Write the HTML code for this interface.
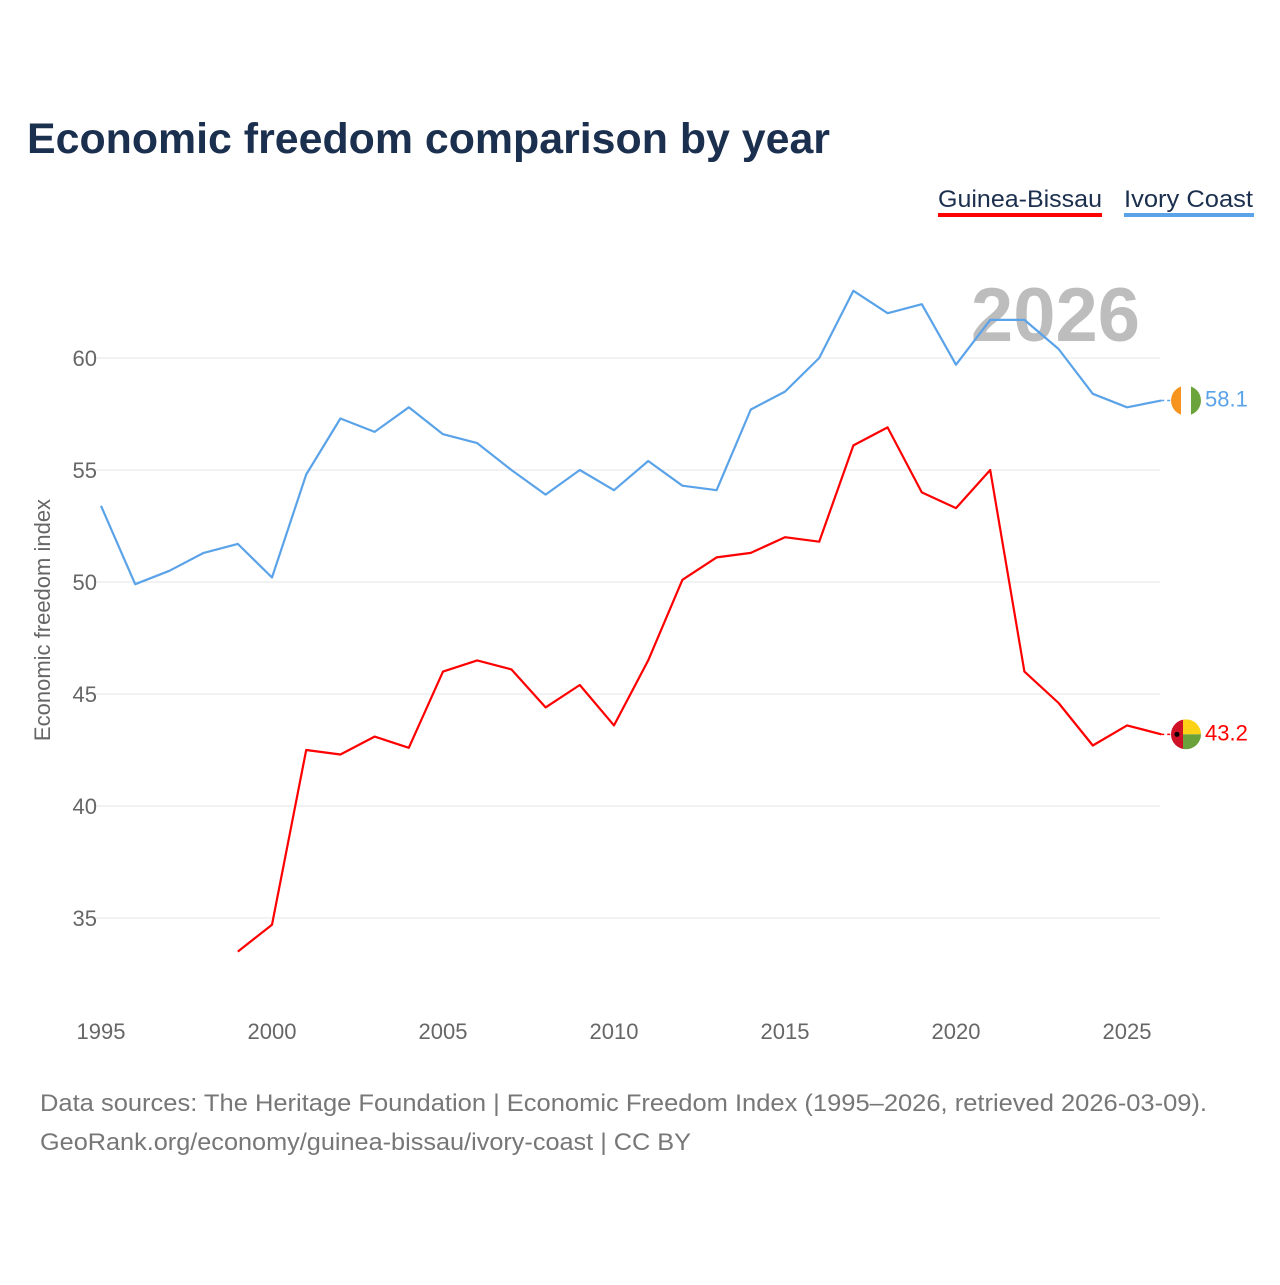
<!DOCTYPE html>
<html><head><meta charset="utf-8">
<style>
body{margin:0;background:#fff;width:1280px;height:1280px;overflow:hidden;font-family:"Liberation Sans",sans-serif;}
svg text{font-family:"Liberation Sans",sans-serif;}
</style></head>
<body>
<svg id="chart" width="1280" height="1280" xmlns="http://www.w3.org/2000/svg">
<text x="27" y="153" font-size="43" font-weight="bold" fill="#1b2f4e" textLength="803" lengthAdjust="spacingAndGlyphs">Economic freedom comparison by year</text>
<g>
<text x="938" y="207" font-size="24" fill="#1b2f4e" textLength="164" lengthAdjust="spacingAndGlyphs">Guinea-Bissau</text>
<rect x="938" y="213" width="164" height="4" fill="#ff0000"/></g>
<g>
<text x="1124" y="207" font-size="24" fill="#1b2f4e" textLength="129" lengthAdjust="spacingAndGlyphs">Ivory Coast</text>
<rect x="1124" y="213" width="130" height="4" fill="#5ba3e8"/></g>
<text x="1140" y="341" font-size="76" font-weight="bold" fill="#bdbdbd" text-anchor="end">2026</text>
<text transform="translate(50,620) rotate(-90)" font-size="22" fill="#666" text-anchor="middle">Economic freedom index</text>
<g id="grid"></g><g id="series"></g>
<text x="40" y="1111" font-size="24" fill="#777" textLength="1167" lengthAdjust="spacingAndGlyphs">Data sources: The Heritage Foundation | Economic Freedom Index (1995–2026, retrieved 2026-03-09).</text>
<text x="40" y="1150" font-size="24" fill="#777" textLength="651" lengthAdjust="spacingAndGlyphs">GeoRank.org/economy/guinea-bissau/ivory-coast | CC BY</text>
</svg>
<script>
const years=[];for(let y=1995;y<=2026;y++)years.push(y);
const ivoryCoast=[53.4,49.9,50.5,51.3,51.7,50.2,54.8,57.3,56.7,57.8,56.6,56.2,55.0,53.9,55.0,54.1,55.4,54.3,54.1,57.7,58.5,60.0,63.0,62.0,62.4,59.7,61.7,61.7,60.4,58.4,57.8,58.1];
const guineaBissau=[null,null,null,null,33.5,34.7,42.5,42.3,43.1,42.6,46.0,46.5,46.1,44.4,45.4,43.6,46.5,50.1,51.1,51.3,52.0,51.8,56.1,56.9,54.0,53.3,55.0,46.0,44.6,42.7,43.6,43.2];
const yTicks=[35,40,45,50,55,60];
const xTicks=[1995,2000,2005,2010,2015,2020,2025];
const NS="http://www.w3.org/2000/svg";
const X=y=>101+(y-1995)*34.2;
const Y=v=>358+(60-v)*22.4;
const grid=document.getElementById('grid'),ser=document.getElementById('series');
function mk(tag,attrs,parent){const e=document.createElementNS(NS,tag);for(const k in attrs)e.setAttribute(k,attrs[k]);parent.appendChild(e);return e;}
yTicks.forEach(t=>{
 const l=mk('line',{x1:95,x2:1160,y1:Y(t),y2:Y(t),stroke:'#e6e6e6','stroke-width':1},grid);
 
 
 const tx=mk('text',{x:97,y:Y(t)+8,'font-size':22,fill:'#666','text-anchor':'end'},grid);tx.textContent=t;
 
 
});
xTicks.forEach(t=>{
 const tx=mk('text',{x:X(t),y:1039,'font-size':22,fill:'#666','text-anchor':'middle'},grid);tx.textContent=t;
 
 
});
function line(vals,color,name){
 let d='';vals.forEach((v,i)=>{if(v==null)return;d+=(d?'L':'M')+X(years[i]).toFixed(1)+','+Y(v).toFixed(1);});
 const p=mk('path',{d:d,fill:'none',stroke:color,'stroke-width':2.2,'stroke-linejoin':'round'},ser);
 
 
 const last=vals[vals.length-1],lx=X(years[years.length-1]),ly=Y(last);
 mk('line',{x1:lx,x2:1172,y1:ly,y2:ly,stroke:color,'stroke-width':1.5,'stroke-dasharray':'3,3'},ser);
 const lab=mk('text',{x:1205,y:ly+6,'font-size':22,fill:color},ser);lab.textContent=last.toFixed(1);
 
 
 return ly;
}
const yi=line(ivoryCoast,'#5ba3e8','ivory-coast');
const yg=line(guineaBissau,'#ff0000','guinea-bissau');
const f1=mk('g',{},ser);


const cp1=mk('clipPath',{id:'c1'},f1);mk('circle',{cx:1186,cy:yi,r:15},cp1);
const g1=mk('g',{'clip-path':'url(#c1)'},f1);
mk('rect',{x:1171,y:yi-15,width:10,height:30,fill:'#f7941d'},g1);
mk('rect',{x:1181,y:yi-15,width:10,height:30,fill:'#fff'},g1);
mk('rect',{x:1191,y:yi-15,width:10,height:30,fill:'#6ba43a'},g1);
const f2=mk('g',{},ser);


const cp2=mk('clipPath',{id:'c2'},f2);mk('circle',{cx:1186,cy:yg,r:15},cp2);
const g2=mk('g',{'clip-path':'url(#c2)'},f2);
mk('rect',{x:1171,y:yg-15,width:12,height:30,fill:'#ce1126'},g2);
mk('rect',{x:1183,y:yg-15,width:18,height:15,fill:'#fcd116'},g2);
mk('rect',{x:1183,y:yg,width:18,height:15,fill:'#6aa13a'},g2);
mk('circle',{cx:1177,cy:yg,r:2.5,fill:'#000'},g2);
</script>
</body></html>
